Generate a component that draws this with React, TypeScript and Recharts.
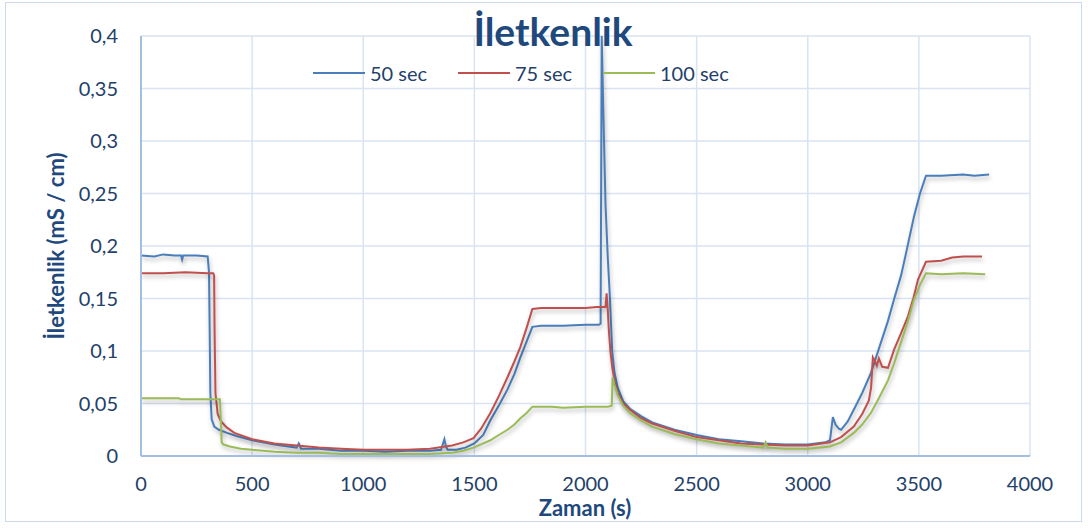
import React from 'react';
import { LineChart, Line, XAxis, YAxis, CartesianGrid } from 'recharts';

const chartTitle = 'İletkenlik';
const xAxisTitle = 'Zaman (s)';
const yAxisTitle = 'İletkenlik (mS / cm)';
const seriesNames = ['50 sec', '75 sec', '100 sec'];
const seriesColors = ['#4a7ebb', '#c0504d', '#9bbb59'];

const xTicks = [0, 500, 1000, 1500, 2000, 2500, 3000, 3500, 4000];
const yTicks = [0, 0.05, 0.1, 0.15, 0.2, 0.25, 0.3, 0.35, 0.4];

const t50 = [0, 60, 100, 150, 180, 185, 190, 250, 300, 306, 309, 312, 318, 330, 350, 387, 430, 500, 600, 700, 710, 720, 800, 900, 1000, 1100, 1200, 1300, 1350, 1365, 1372, 1380, 1420, 1460, 1500, 1540, 1572, 1610, 1648, 1680, 1707, 1735, 1761, 1800, 1900, 2000, 2060, 2068, 2073, 2080, 2090, 2100, 2110, 2120, 2130, 2145, 2170, 2200, 2250, 2300, 2400, 2500, 2600, 2700, 2800, 2900, 3000, 3080, 3100, 3113, 3125, 3140, 3150, 3180, 3207, 3245, 3284, 3329, 3360, 3388, 3420, 3442, 3478, 3505, 3532, 3600, 3700, 3750, 3816];
const v50 = [0.191, 0.19, 0.192, 0.191, 0.191, 0.187, 0.191, 0.191, 0.19, 0.175, 0.12, 0.06, 0.035, 0.028, 0.025, 0.022, 0.019, 0.015, 0.011, 0.008, 0.012, 0.007, 0.007, 0.005, 0.005, 0.004, 0.005, 0.005, 0.006, 0.016, 0.009, 0.006, 0.006, 0.008, 0.012, 0.02, 0.034, 0.048, 0.063, 0.078, 0.094, 0.109, 0.123, 0.124, 0.124, 0.125, 0.125, 0.126, 0.4, 0.33, 0.24, 0.19, 0.15, 0.1, 0.08, 0.065, 0.052, 0.045, 0.038, 0.032, 0.025, 0.02, 0.016, 0.014, 0.012, 0.011, 0.011, 0.013, 0.015, 0.037, 0.03, 0.026, 0.025, 0.033, 0.044, 0.06, 0.079, 0.108, 0.128, 0.149, 0.172, 0.193, 0.228, 0.25, 0.267, 0.267, 0.268, 0.267, 0.268];

const t75 = [0, 100, 200, 300, 325, 329, 331, 335, 345, 360, 387, 420, 500, 600, 700, 800, 900, 1000, 1100, 1200, 1300, 1400, 1450, 1496, 1530, 1572, 1610, 1649, 1680, 1707, 1735, 1761, 1800, 1900, 2000, 2050, 2090, 2095, 2100, 2105, 2112, 2120, 2130, 2145, 2170, 2200, 2250, 2300, 2400, 2500, 2600, 2700, 2800, 2900, 3000, 3100, 3150, 3207, 3245, 3275, 3285, 3293, 3303, 3311, 3320, 3335, 3361, 3388, 3420, 3451, 3475, 3496, 3532, 3600, 3650, 3700, 3784];
const v75 = [0.174, 0.174, 0.175, 0.174, 0.174, 0.172, 0.12, 0.06, 0.04, 0.033, 0.027, 0.022, 0.016, 0.012, 0.01, 0.008, 0.007, 0.006, 0.006, 0.006, 0.007, 0.01, 0.013, 0.017, 0.026, 0.041, 0.057, 0.075, 0.09, 0.104, 0.122, 0.14, 0.141, 0.141, 0.141, 0.142, 0.142, 0.155, 0.14, 0.12, 0.1, 0.085, 0.072, 0.06, 0.05, 0.044, 0.036, 0.031, 0.024, 0.018, 0.015, 0.012, 0.011, 0.01, 0.01, 0.013, 0.018, 0.028, 0.04, 0.053, 0.065, 0.094, 0.09, 0.086, 0.093, 0.085, 0.084, 0.101, 0.117, 0.133, 0.15, 0.168, 0.185, 0.186, 0.189, 0.19, 0.19];

const t100 = [0, 100, 170, 180, 300, 355, 360, 363, 370, 400, 450, 500, 600, 700, 800, 900, 1000, 1100, 1200, 1300, 1400, 1450, 1496, 1530, 1572, 1610, 1649, 1680, 1707, 1735, 1761, 1850, 1900, 2000, 2100, 2118, 2122, 2130, 2145, 2170, 2200, 2250, 2300, 2400, 2500, 2600, 2700, 2800, 2810, 2820, 2900, 3000, 3100, 3150, 3207, 3245, 3284, 3320, 3361, 3390, 3419, 3450, 3478, 3505, 3532, 3600, 3700, 3798];
const v100 = [0.055, 0.055, 0.055, 0.054, 0.054, 0.054, 0.03, 0.013, 0.011, 0.009, 0.007, 0.006, 0.004, 0.003, 0.003, 0.002, 0.002, 0.002, 0.002, 0.002, 0.003, 0.005, 0.008, 0.011, 0.015, 0.02, 0.025, 0.03, 0.036, 0.041, 0.047, 0.047, 0.046, 0.047, 0.047, 0.048, 0.075, 0.068, 0.058, 0.048, 0.041, 0.034, 0.028, 0.021, 0.016, 0.012, 0.01, 0.008, 0.013, 0.008, 0.007, 0.007, 0.009, 0.013, 0.022, 0.03, 0.041, 0.055, 0.072, 0.089, 0.108, 0.128, 0.149, 0.163, 0.174, 0.173, 0.174, 0.173];

const toRows = (t: number[], v: number[]) => t.map((x, i) => ({ t: x, v: v[i] }));
const seriesData = [toRows(t50, v50), toRows(t75, v75), toRows(t100, v100)];

const fmtY = (v: number) => (v === 0 ? '0' : String(v).replace('.', ','));

const FONT = 'Lato, "Open Sans", sans-serif';
const NAVY = '#1f497d';
const TICK = '#243f6a';

const legendX = [313, 458, 603];

export default function App() {
  return (
    <div style={{ position: 'absolute', left: 0, top: 0, width: 1089, height: 528, background: '#fff', fontFamily: FONT }}>
      <style>{`.recharts-line .recharts-curve { filter: drop-shadow(1px 3px 2px rgba(0,0,0,0.28)); }`}</style>
      <div style={{ position: 'absolute', left: 5, top: 2, width: 1077, height: 520, border: '1px solid #cbd9ec', boxSizing: 'border-box' }} />
      <div style={{ position: 'absolute', left: 0, top: 0 }}>
        <LineChart width={1089} height={528} margin={{ top: 36, right: 59, bottom: 42, left: 61 }}>
          <CartesianGrid stroke="#d9e4f2" strokeWidth={1.5} />
          <XAxis
            dataKey="t"
            type="number"
            domain={[0, 4000]}
            ticks={xTicks}
            allowDataOverflow
            height={30}
            tickSize={0}
            tickMargin={21}
            tickLine={false}
            axisLine={{ stroke: '#a3bee3', strokeWidth: 2 }}
            tick={{ fill: TICK, fontSize: 20, fontFamily: FONT }}
            interval={0}
          />
          <YAxis
            type="number"
            domain={[0, 0.4]}
            ticks={yTicks}
            width={80}
            tickSize={0}
            tickMargin={23}
            tickLine={false}
            axisLine={{ stroke: '#a3bee3', strokeWidth: 2 }}
            tick={{ fill: TICK, fontSize: 20, fontFamily: FONT }}
            tickFormatter={fmtY}
            interval={0}
          />
          {seriesData.map((d, i) => (
            <Line
              key={seriesNames[i]}
              data={d}
              dataKey="v"
              name={seriesNames[i]}
              stroke={seriesColors[i]}
              strokeWidth={2}
              dot={false}
              activeDot={false}
              type="linear"
              isAnimationActive={false}
            />
          ))}
        </LineChart>
      </div>
      <svg width={1089} height={528} style={{ position: 'absolute', left: 0, top: 0, pointerEvents: 'none' }}>
        <text x={553} y={46} textAnchor="middle" fill={NAVY} fontFamily={FONT} fontWeight={700} fontSize={39}>
          {chartTitle}
        </text>
        {seriesNames.map((n, i) => (
          <g key={n}>
            <line x1={legendX[i]} x2={legendX[i] + 52} y1={73} y2={73} stroke={seriesColors[i]} strokeWidth={2} />
            <text x={legendX[i] + 57} y={73} dominantBaseline="central" fill={TICK} fontFamily={FONT} fontSize={20}>
              {n}
            </text>
          </g>
        ))}
        <text x={585} y={507} textAnchor="middle" dominantBaseline="central" fill={NAVY} fontFamily={FONT} fontWeight={700} fontSize={22}>
          {xAxisTitle}
        </text>
        <text
          x={55}
          y={246}
          textAnchor="middle"
          dominantBaseline="central"
          transform="rotate(-90 55 246)"
          fill={NAVY}
          fontFamily={FONT}
          fontWeight={700}
          fontSize={22}
        >
          {yAxisTitle}
        </text>
      </svg>
    </div>
  );
}
